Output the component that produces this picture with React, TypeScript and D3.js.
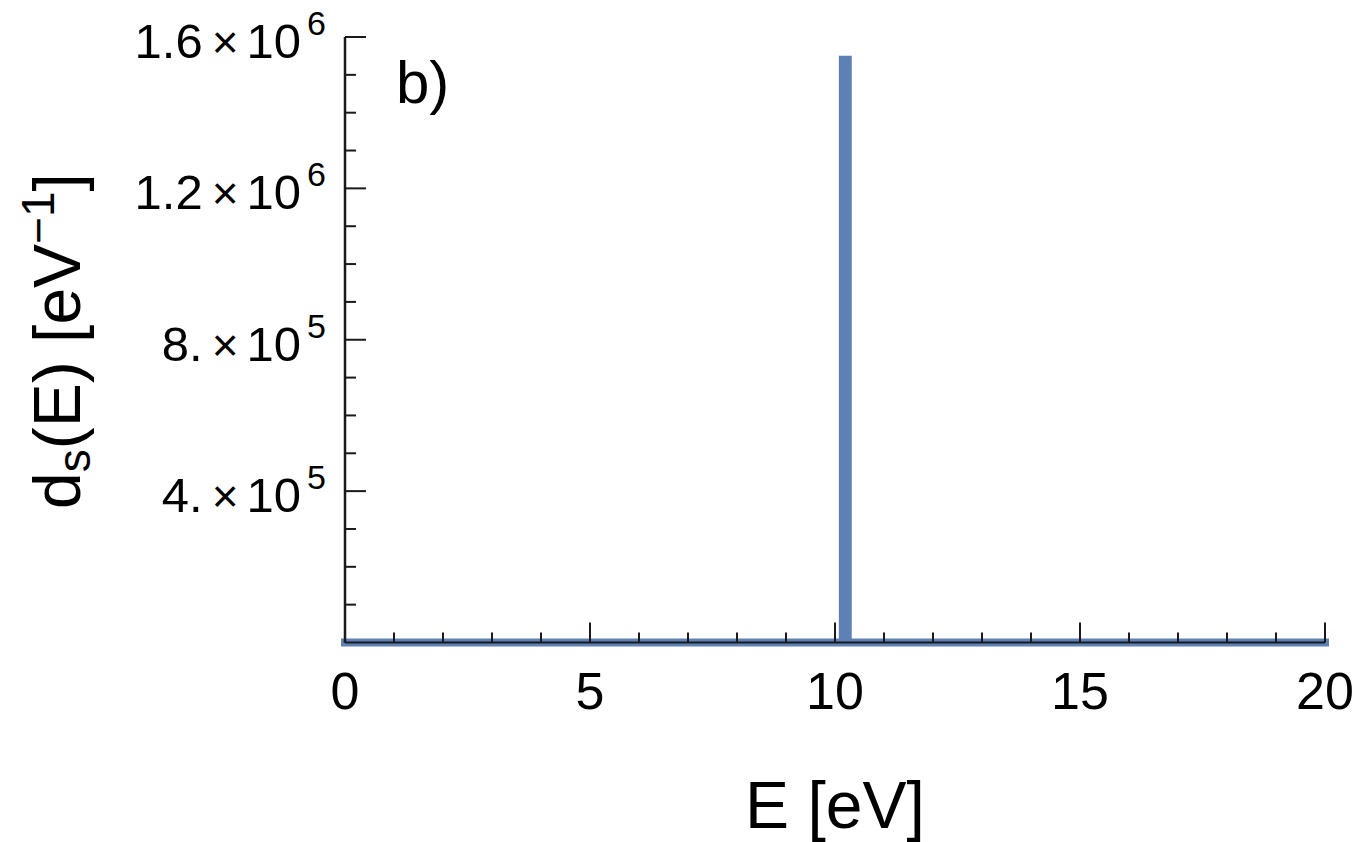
import React, { useRef, useEffect } from 'react';
import * as d3 from 'd3';

// spectral density curve (E in eV, d_s in 1/eV)
const energy = [0, 10.16, 10.16, 10.26, 10.26, 20];
const density = [0, 0, 1.54e6, 1.54e6, 0, 0];

const xMajorTicks = [0, 5, 10, 15, 20];
const xTickLabels = ['0', '5', '10', '15', '20'];
const yMajorTicks = [4e5, 8e5, 1.2e6, 1.6e6];
const yTickMantissa = ['4.', '8.', '1.2', '1.6'];
const yTickExponent = ['5', '5', '6', '6'];

const FONT = '"Liberation Sans", Arial, sans-serif';

const App = () => {
    const svgRef = useRef<SVGSVGElement>(null);
    const width = 1357;
    const height = 842;

    useEffect(() => {
        const svg = d3.select(svgRef.current)
            .attr('width', width)
            .attr('height', height);

        svg.selectAll('*').remove();

        const xScale = d3.scaleLinear().domain([0, 20]).range([345, 1325]);
        const yScale = d3.scaleLinear().domain([0, 1.6e6]).range([642.5, 37]);

        const points: [number, number][] = energy.map((e, i) => [e, density[i]]);

        // the curve
        const line = d3.line<[number, number]>()
            .x(d => xScale(d[0]))
            .y(d => yScale(d[1]));

        svg.append('path')
            .datum(points)
            .attr('d', line)
            .attr('fill', 'none')
            .attr('stroke', '#5e81b5')
            .attr('stroke-width', 8)
            .attr('stroke-linejoin', 'miter')
            .attr('stroke-linecap', 'square');

        const axisColor = '#1a1a1a';
        const g = svg.append('g');

        // x axis
        g.append('line')
            .attr('x1', xScale(0)).attr('x2', xScale(20))
            .attr('y1', yScale(0)).attr('y2', yScale(0))
            .attr('stroke', axisColor).attr('stroke-width', 2);

        const xMinor = d3.range(1, 20).filter(v => !xMajorTicks.includes(v));
        g.selectAll('.xminor')
            .data(xMinor)
            .enter()
            .append('line')
            .attr('x1', d => xScale(d)).attr('x2', d => xScale(d))
            .attr('y1', yScale(0)).attr('y2', yScale(0) - 10)
            .attr('stroke', axisColor).attr('stroke-width', 2);

        g.selectAll('.xmajor')
            .data(xMajorTicks)
            .enter()
            .append('line')
            .attr('x1', d => xScale(d)).attr('x2', d => xScale(d))
            .attr('y1', yScale(0)).attr('y2', yScale(0) - 20)
            .attr('stroke', axisColor).attr('stroke-width', 2);

        g.selectAll('.xlabel')
            .data(xMajorTicks)
            .enter()
            .append('text')
            .attr('x', d => xScale(d))
            .attr('y', 709)
            .attr('text-anchor', 'middle')
            .attr('font-family', FONT)
            .attr('font-size', 52)
            .attr('fill', '#000')
            .text((d, i) => xTickLabels[i]);

        // y axis
        g.append('line')
            .attr('x1', xScale(0)).attr('x2', xScale(0))
            .attr('y1', yScale(0)).attr('y2', yScale(1.6e6))
            .attr('stroke', axisColor).attr('stroke-width', 2.5);

        const yMinor = d3.range(1, 16).map(k => k * 1e5).filter(v => !yMajorTicks.includes(v));
        g.selectAll('.yminor')
            .data(yMinor)
            .enter()
            .append('line')
            .attr('x1', xScale(0)).attr('x2', xScale(0) + 11)
            .attr('y1', d => yScale(d)).attr('y2', d => yScale(d))
            .attr('stroke', axisColor).attr('stroke-width', 2);

        g.selectAll('.ymajor')
            .data(yMajorTicks)
            .enter()
            .append('line')
            .attr('x1', xScale(0)).attr('x2', xScale(0) + 21)
            .attr('y1', d => yScale(d)).attr('y2', d => yScale(d))
            .attr('stroke', axisColor).attr('stroke-width', 2);

        const yLabels = g.selectAll('.ylabel')
            .data(yMajorTicks)
            .enter()
            .append('text')
            .attr('x', 326)
            .attr('y', d => yScale(d) + 21)
            .attr('text-anchor', 'end')
            .attr('font-family', FONT)
            .attr('font-size', 49)
            .attr('fill', '#000');

        yLabels.append('tspan').text((d, i) => yTickMantissa[i]);
        yLabels.append('tspan').attr('dx', 9).attr('font-size', 46).text('\u00d7');
        yLabels.append('tspan').attr('dx', 8).text('10');
        yLabels.append('tspan').attr('dx', 6).attr('dy', -23).attr('font-size', 34).text((d, i) => yTickExponent[i]);

        // axis titles
        svg.append('text')
            .attr('x', 835)
            .attr('y', 828)
            .attr('text-anchor', 'middle')
            .attr('font-family', FONT)
            .attr('font-size', 66)
            .attr('fill', '#000')
            .text('E [eV]');

        const yTitle = svg.append('text')
            .attr('transform', 'translate(80, 341) rotate(-90)')
            .attr('text-anchor', 'middle')
            .attr('font-family', FONT)
            .attr('font-size', 66)
            .attr('fill', '#000');
        yTitle.append('tspan').text('d');
        yTitle.append('tspan').attr('dy', 10).attr('font-size', 46).text('s');
        yTitle.append('tspan').attr('dy', -10).text('(E) [eV');
        yTitle.append('tspan').attr('dy', -26).attr('font-size', 46).text('\u22121');
        yTitle.append('tspan').attr('dy', 26).text(']');

        // panel label
        svg.append('text')
            .attr('x', 396)
            .attr('y', 103)
            .attr('font-family', FONT)
            .attr('font-size', 60)
            .attr('fill', '#000')
            .text('b)');

    }, []);

    return (
        <svg ref={svgRef} style={{ position: 'absolute', left: 0, top: 0 }}></svg>
    );
};

export default App;
